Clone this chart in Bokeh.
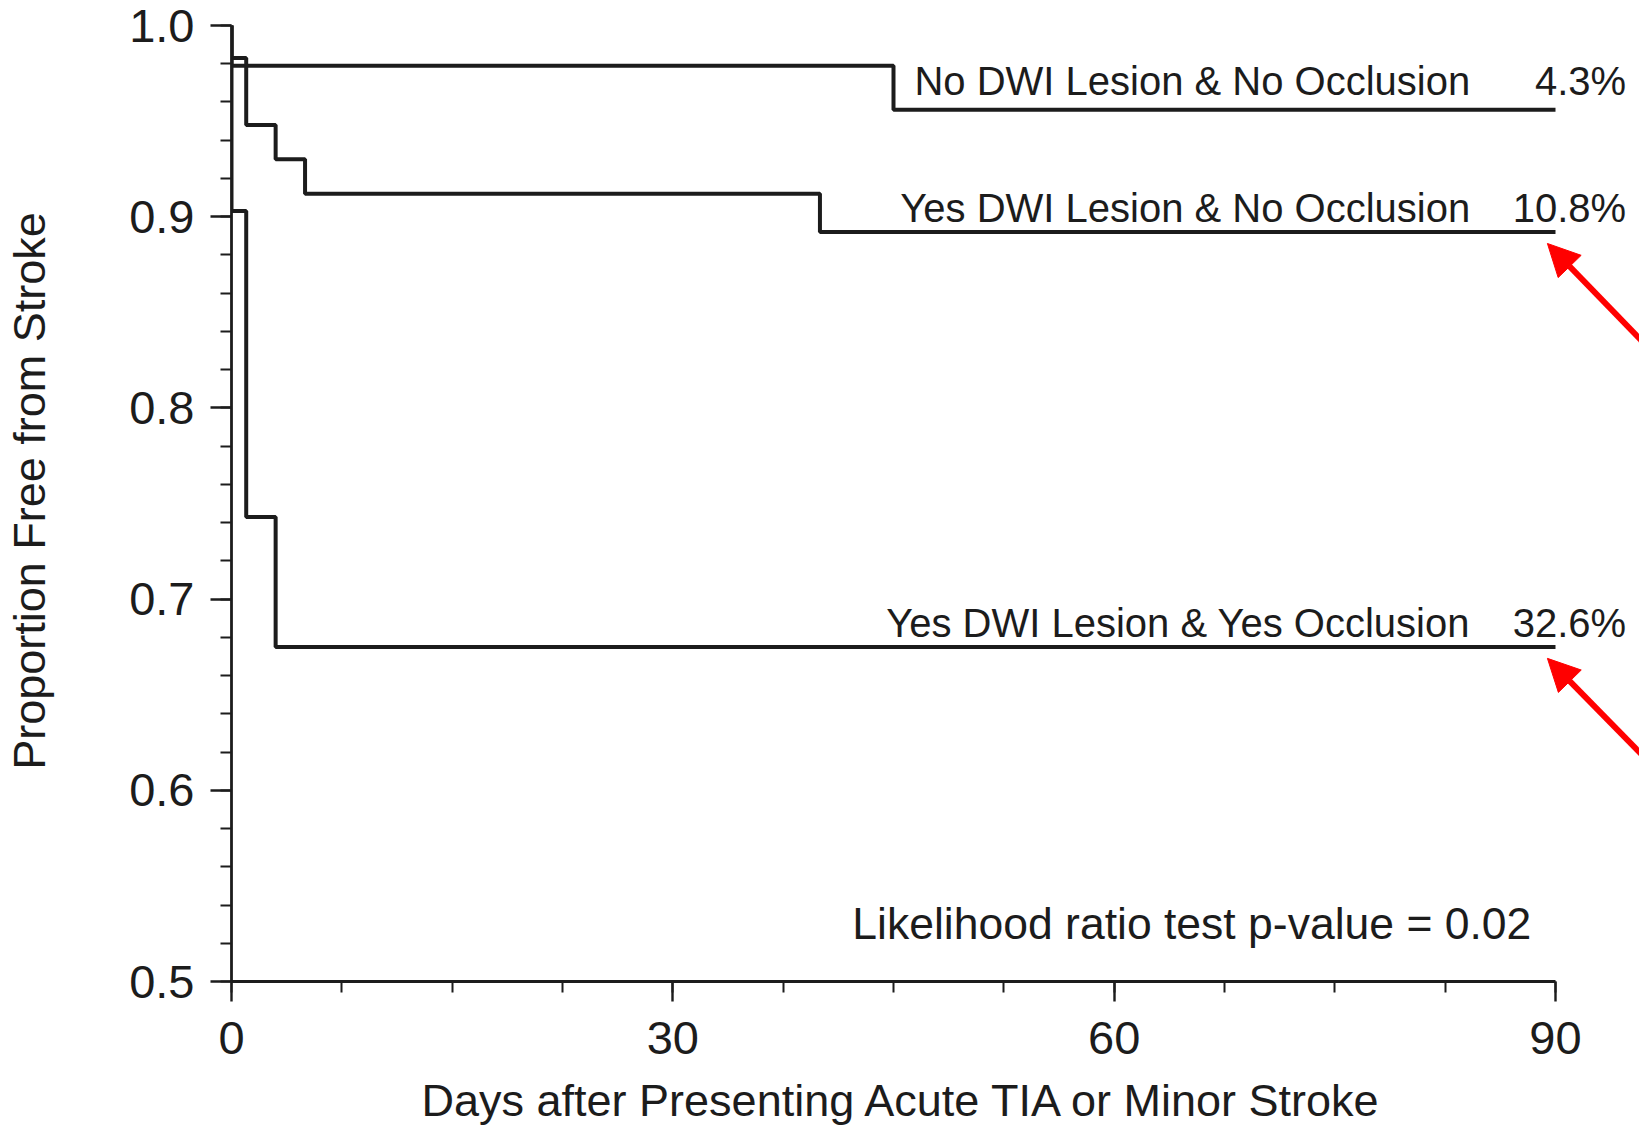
from bokeh.plotting import figure
from bokeh.models import (SingleIntervalTicker, Range1d, Arrow, NormalHead, Label,
                          ColumnDataSource, PrintfTickFormatter, Title)
from bokeh.core.properties import value
from bokeh.embed import file_html
from bokeh.resources import INLINE

# ---------------- data ----------------
groups = ["No DWI Lesion & No Occlusion",
          "Yes DWI Lesion & No Occlusion",
          "Yes DWI Lesion & Yes Occlusion"]
event_pct = ["4.3%", "10.8%", "32.6%"]

days_no_no = [0, 0, 45, 90]
surv_no_no = [1.0, 0.979, 0.956, 0.956]

days_yes_no = [0, 0, 1, 3, 5, 40, 90]
surv_yes_no = [1.0, 0.983, 0.948, 0.930, 0.912, 0.892, 0.892]

days_yes_yes = [0, 0, 1, 3, 90]
surv_yes_yes = [1.0, 0.903, 0.743, 0.675, 0.675]

x_ticks_interval = 30
y_ticks_interval = 0.1
p_value_text = "Likelihood ratio test p-value = 0.02"
x_title = "Days after Presenting Acute TIA or Minor Stroke"
y_title = "Proportion Free from Stroke"

# label placement (annotation positions)
label_x_right = 84.2
pct_x_right = 94.8
label_y = [0.9709, 0.9044, 0.6874]
pvalue_xy = (42.2, 0.5303)
arrow_tips = [(89.45, 0.886), (89.45, 0.669)]
arrow_tails = [(99.9, 0.803), (99.9, 0.587)]

FONT = "Liberation Sans"
INK = "#1c1c1c"

p = figure(width=1639, height=1143,
           x_range=Range1d(0, 95.71), y_range=Range1d(0.5, 1.01308),
           output_backend="svg", toolbar_location=None,
           min_border_left=231, min_border_right=0,
           min_border_top=0, min_border_bottom=162)
p.background_fill_color = "white"
p.border_fill_color = "white"
p.outline_line_color = None
p.grid.visible = False

# axes
for ax in (p.xaxis[0], p.yaxis[0]):
    ax.axis_line_color = INK
    ax.axis_line_width = 2.8
    ax.major_tick_line_color = INK
    ax.major_tick_line_width = 2.4
    ax.minor_tick_line_color = INK
    ax.minor_tick_line_width = 2.0
    ax.major_tick_in = 0
    ax.minor_tick_in = 0
    ax.major_label_text_font = FONT
    ax.major_label_text_font_size = "47px"
    ax.major_label_text_color = INK
    ax.axis_label_text_font = FONT
    ax.axis_label_text_font_size = "45px"
    ax.axis_label_text_font_style = "normal"
    ax.axis_label_text_color = INK

p.xaxis.ticker = SingleIntervalTicker(interval=x_ticks_interval, num_minor_ticks=4)
p.yaxis.ticker = SingleIntervalTicker(interval=y_ticks_interval, num_minor_ticks=5)
p.yaxis.formatter = PrintfTickFormatter(format="%.1f")
p.xaxis.bounds = (0, 90)
p.yaxis.bounds = (0.5, 1.0)
p.xaxis.major_tick_out = 20
p.xaxis.minor_tick_out = 11
p.yaxis.major_tick_out = 21
p.yaxis.minor_tick_out = 11
p.xaxis.major_label_standoff = 20
p.yaxis.major_label_standoff = 16
p.yaxis.axis_label = y_title
p.yaxis.axis_label_standoff = 71

# x-axis title (placed to match the original's position)
p.add_layout(Title(text=x_title, align="left", offset=190, standoff=33,
                   text_font=FONT, text_font_size="45px", text_font_style="normal",
                   text_color=INK), "below")

# curves
for d, s in ((days_no_no, surv_no_no), (days_yes_no, surv_yes_no), (days_yes_yes, surv_yes_yes)):
    p.step(d, s, mode="after", line_color=INK, line_width=4)

# curve labels
lab_src = ColumnDataSource(dict(x=[label_x_right] * 3, y=label_y, t=groups))
p.text(x="x", y="y", text="t", source=lab_src, text_align="right",
       text_baseline="alphabetic", text_font=value(FONT), text_font_size="40px",
       text_color=INK)
pct_src = ColumnDataSource(dict(x=[pct_x_right] * 3, y=label_y, t=event_pct))
p.text(x="x", y="y", text="t", source=pct_src, text_align="right",
       text_baseline="alphabetic", text_font=value(FONT), text_font_size="40px",
       text_color=INK)

p.add_layout(Label(x=pvalue_xy[0], y=pvalue_xy[1], text=p_value_text, text_font=FONT,
                   text_font_size="44.5px", text_color=INK, text_baseline="alphabetic"))

# red arrows
for (tx, ty), (sx, sy) in zip(arrow_tips, arrow_tails):
    p.add_layout(Arrow(x_start=sx, y_start=sy, x_end=tx, y_end=ty,
                       line_color="#ff0000", line_width=6,
                       end=NormalHead(size=32, fill_color="#ff0000", line_color="#ff0000")))

open("out.html", "w").write(file_html(p, INLINE))
